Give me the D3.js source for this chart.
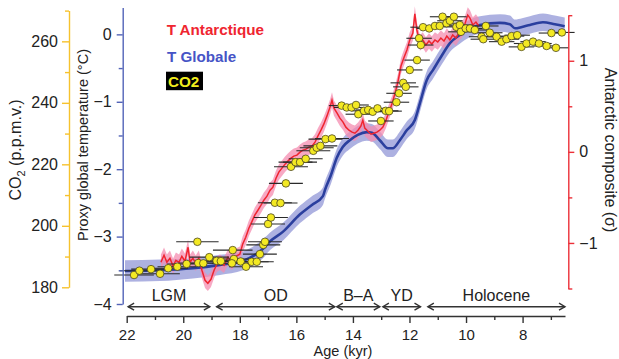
<!DOCTYPE html>
<html><head><meta charset="utf-8">
<script src="https://cdn.jsdelivr.net/npm/d3@7"></script>
<style>
body{margin:0;background:#fff;}
svg{display:block;}
text{font-family:"Liberation Sans",Arial,Helvetica,sans-serif;}
</style></head><body>
<svg id="c" width="619" height="359"></svg>
<script>
// ---------------- data ----------------
const globalAge  = [22.06,20.82,19.66,18.70,17.89,17.46,17.18,16.93,16.48,15.87,15.45,15.06,14.99,14.78,14.57,14.36,14.11,13.83,13.51,13.33,13.05,12.76,12.59,12.34,12.09,11.81,11.63,11.39,11.17,10.85,10.57,10.22,9.86,9.51,8.80,8.45,8.27,8.02,7.74,7.28,6.86,6.51];
const globalTemp = [-3.51,-3.50,-3.47,-3.42,-3.36,-3.27,-3.18,-3.07,-2.93,-2.67,-2.53,-2.40,-2.31,-2.09,-1.83,-1.67,-1.57,-1.49,-1.45,-1.46,-1.57,-1.69,-1.69,-1.57,-1.42,-1.27,-1.02,-0.68,-0.53,-0.31,-0.13,-0.01,0.09,0.14,0.17,0.15,0.09,0.11,0.14,0.18,0.15,0.12];
const globalErr  = [0.16,0.16,0.15,0.15,0.14,0.14,0.14,0.13,0.13,0.13,0.13,0.13,0.13,0.13,0.13,0.13,0.13,0.13,0.13,0.13,0.13,0.13,0.13,0.13,0.13,0.13,0.13,0.13,0.13,0.13,0.13,0.13,0.13,0.13,0.13,0.13,0.13,0.13,0.13,0.13,0.13,0.13];

const antAge   = [20.79,20.68,20.58,20.47,20.36,20.26,20.15,20.05,19.94,19.83,19.76,19.66,19.56,19.45,19.34,19.23,19.13,19.02,18.91,18.81,18.70,18.56,18.42,18.28,18.14,18.00,17.90,17.79,17.68,17.58,17.47,17.36,17.25,17.15,17.04,16.93,16.83,16.72,16.62,16.51,16.40,16.30,16.19,16.09,15.98,15.87,15.77,15.66,15.56,15.45,15.34,15.24,15.13,15.03,14.92,14.81,14.74,14.67,14.56,14.46,14.35,14.25,14.14,14.03,13.93,13.82,13.72,13.65,13.58,13.47,13.36,13.26,13.15,13.05,12.94,12.83,12.73,12.62,12.51,12.41,12.30,12.20,12.09,11.99,11.88,11.81,11.74,11.63,11.53,11.42,11.31,11.21,11.10,11.00,10.89,10.78,10.68,10.57,10.47,10.36,10.25,10.15,10.04,9.94,9.86,9.76,9.65,9.55];
const antSigma = [-1.212,-1.135,-1.212,-1.168,-1.256,-1.190,-1.212,-1.146,-1.201,-1.047,-1.212,-1.168,-1.223,-1.168,-1.300,-1.410,-1.443,-1.399,-1.300,-1.234,-1.212,-1.245,-1.157,-1.212,-1.146,-1.124,-1.014,-0.937,-0.838,-0.772,-0.695,-0.641,-0.586,-0.531,-0.487,-0.421,-0.388,-0.289,-0.223,-0.179,-0.135,-0.102,-0.069,-0.047,-0.036,-0.003,0.019,0.030,0.052,0.063,0.107,0.173,0.238,0.304,0.392,0.491,0.568,0.480,0.425,0.370,0.326,0.271,0.238,0.216,0.205,0.238,0.282,0.348,0.260,0.227,0.194,0.205,0.216,0.238,0.271,0.348,0.436,0.524,0.645,0.766,0.942,1.030,1.118,1.228,1.305,1.514,1.338,1.195,1.228,1.173,1.217,1.184,1.228,1.206,1.249,1.216,1.271,1.228,1.282,1.249,1.304,1.337,1.403,1.502,1.469,1.392,1.425,1.381];
const antErr = 0.085;

const co2Age = [21.74,21.55,21.14,20.82,20.53,20.21,19.88,19.50,19.47,19.29,19.08,18.82,18.67,18.25,18.21,18.28,17.97,17.78,17.58,17.40,17.29,17.17,17.11,17.00,16.90,16.76,16.56,16.37,16.19,16.03,15.87,15.67,15.40,15.28,15.15,14.97,14.74,14.40,14.22,14.05,13.89,13.81,13.61,13.46,13.30,13.13,13.01,12.84,12.72,12.46,12.37,12.22,12.13,11.99,11.73,11.66,11.60,11.52,11.30,11.10,10.93,10.83,10.69,10.57,10.43,10.34,10.22,10.18,10.01,9.86,9.69,9.45,9.30,9.16,9.39,8.92,8.74,8.57,8.39,8.19,8.04,7.86,7.63,7.42,7.15,6.98,6.82,6.61];
const co2Val = [184.0,185.4,185.9,184.4,186.2,186.7,187.6,194.8,187.9,187.8,189.8,188.6,188.5,192.1,189.2,187.8,188.4,186.7,188.3,188.3,190.8,193.8,194.8,200.6,202.7,207.5,207.4,213.8,219.2,220.7,220.7,221.8,224.4,225.4,226.0,228.2,228.4,239.1,238.5,238.5,239.3,236.3,237.4,237.7,237.1,238.2,234.1,237.4,237.3,240.2,243.1,246.5,245.2,250.7,253.9,261.0,258.8,264.6,264.2,265.0,265.0,268.0,265.9,266.7,268.0,264.7,265.3,263.1,264.2,264.2,263.7,261.5,265.0,262.8,260.7,261.5,259.9,260.7,261.7,262.0,258.2,259.3,259.9,259.3,258.5,262.7,257.9,262.9];
const co2AgeErr = [0.7,0.7,0.7,0.7,0.7,0.7,0.7,0.75,0.7,0.7,0.7,0.7,0.7,0.7,0.7,0.7,0.7,0.6,0.6,0.6,0.6,0.6,0.6,0.6,0.6,0.6,0.6,0.6,0.6,0.6,0.6,0.6,0.6,0.6,0.6,0.6,0.6,0.45,0.45,0.45,0.45,0.45,0.45,0.45,0.45,0.45,0.45,0.45,0.45,0.45,0.45,0.45,0.45,0.45,0.45,0.45,0.45,0.45,0.45,0.45,0.45,0.45,0.45,0.45,0.45,0.45,0.45,0.45,0.45,0.45,0.45,0.45,0.45,0.45,0.45,0.45,0.45,0.45,0.45,0.45,0.45,0.45,0.45,0.45,0.45,0.45,0.45,0.45];

const ageTicks = [22,20,18,16,14,12,10,8];
const ageMinor = [21,19,17,15,13,11,9,7];
const tempTicks = [0,-1,-2,-3,-4];
const tempMinor = [-0.5,-1.5,-2.5,-3.5];
const sigmaTicks = [1,0,-1];
const sigmaMinor = [1.5,0.5,-0.5,-1.5];
const co2Ticks = [180,200,220,240,260];
const co2Minor = [190,210,230,250,270];

const periodLabels = ["LGM","OD","B\u2013A","YD","Holocene"];
const periodStart  = [21.95,18.82,14.57,12.94,11.35];
const periodEnd    = [19.06,14.64,13.05,11.61,6.50];

const legendLabels = ["T Antarctique","T Globale","CO2"];

// ---------------- drawing ----------------
const svg = d3.select("#c");
const x  = d3.scaleLinear().domain([22, 6.5]).range([126.7, 565]);
const yT = d3.scaleLinear().domain([-4, 0.4]).range([304, 7.4]);
const yA = d3.scaleLinear().domain([-1.5, 1.5]).range([288.5, 15.2]);
const yC = d3.scaleLinear().domain([180, 270]).range([287.3, 10.6]);

const FONT = 16;
const minus = d => d < 0 ? "\u2212" + Math.abs(d) : String(d);

// global temperature band + line
const gData = globalAge.map((a,i)=>({a, t:globalTemp[i], e:globalErr[i]}));
svg.append("path").datum(gData)
  .attr("d", d3.area().x(d=>x(d.a)).y0(d=>yT(d.t-d.e)).y1(d=>yT(d.t+d.e)).curve(d3.curveMonotoneX))
  .attr("fill","#9fa3dc").attr("opacity",0.85);

// antarctic band
const aData = antAge.map((a,i)=>({a, s:antSigma[i]}));
svg.append("path").datum(aData)
  .attr("d", d3.area().x(d=>x(d.a)).y0(d=>yA(d.s-antErr)).y1(d=>yA(d.s+antErr)).curve(d3.curveLinear))
  .attr("fill","#f48cb0").attr("opacity",0.75);

svg.append("path").datum(gData)
  .attr("d", d3.line().x(d=>x(d.a)).y(d=>yT(d.t)).curve(d3.curveMonotoneX))
  .attr("fill","none").attr("stroke","#2b3f9e").attr("stroke-width",2.6);

svg.append("path").datum(aData)
  .attr("d", d3.line().x(d=>x(d.a)).y(d=>yA(d.s)))
  .attr("fill","none").attr("stroke","#ef2530").attr("stroke-width",1.5);

// CO2 error bars + dots
const cData = co2Age.map((a,i)=>({a, c:co2Val[i], e:co2AgeErr[i]}));
svg.append("g").selectAll("line").data(cData).join("line")
  .attr("x1", d=>x(d.a+d.e)).attr("x2", d=>x(d.a-d.e))
  .attr("y1", d=>yC(d.c)).attr("y2", d=>yC(d.c))
  .attr("stroke","#2a2a2a").attr("stroke-width",1.1);
svg.append("g").selectAll("circle").data(cData).join("circle")
  .attr("cx", d=>x(d.a)).attr("cy", d=>yC(d.c)).attr("r",3.8)
  .attr("fill","#f3e923").attr("stroke","#4b4620").attr("stroke-width",0.8);

// axes helper
function style(g, color, textColor, fs){
  g.selectAll("path.domain").attr("stroke",color).attr("stroke-width",1.4);
  g.selectAll(".tick line").attr("stroke",color).attr("stroke-width",1.4);
  g.selectAll("text").attr("font-size",fs||FONT).attr("fill",textColor)
    .attr("font-family",'"Liberation Sans",Arial,sans-serif');
}

// bottom axis
const gx = svg.append("g").attr("transform","translate(0,316)")
  .call(d3.axisBottom(x).tickValues(ageTicks).tickSize(7).tickPadding(6).tickSizeOuter(0).tickFormat(d3.format("d")));
style(gx,"#333","#222",15);
const gxm = svg.append("g").attr("transform","translate(0,316)")
  .call(d3.axisBottom(x).tickValues(ageMinor).tickSize(4).tickFormat(""));
gxm.select("path.domain").remove();
style(gxm,"#333","#222");
svg.append("text").attr("x",343).attr("y",356).attr("text-anchor","middle")
  .attr("font-size",14.5).attr("fill","#222").text("Age (kyr)");

// temperature axis
const gt = svg.append("g").attr("transform","translate(122.7,0)")
  .call(d3.axisLeft(yT).tickValues(tempTicks).tickSize(6).tickPadding(5).tickSizeOuter(0).tickFormat(minus));
style(gt,"#5364b8","#222");
const gtm = svg.append("g").attr("transform","translate(122.7,0)")
  .call(d3.axisLeft(yT).tickValues(tempMinor).tickSize(4).tickFormat(""));
gtm.select("path.domain").remove();
style(gtm,"#5364b8","#222");
svg.append("text").attr("transform","translate(87.5,145) rotate(-90)")
  .attr("text-anchor","middle").attr("font-size",14.5).attr("fill","#222")
  .text("Proxy global temperature (\u00B0C)");

// antarctic axis
const ga = svg.append("g").attr("transform","translate(568.3,0)")
  .call(d3.axisRight(yA).tickValues(sigmaTicks).tickSize(6).tickPadding(5).tickSizeOuter(0).tickFormat(minus));
style(ga,"#ec2f38","#222");
const gam = svg.append("g").attr("transform","translate(568.3,0)")
  .call(d3.axisRight(yA).tickValues(sigmaMinor).tickSize(4).tickFormat(""));
gam.select("path.domain").remove();
style(gam,"#ec2f38","#222");
svg.append("text").attr("transform","translate(605,150) rotate(90)")
  .attr("text-anchor","middle").attr("font-size",FONT).attr("fill","#222")
  .text("Antarctic composite (\u03C3)");

// CO2 axis
const gc = svg.append("g").attr("transform","translate(69,0)")
  .call(d3.axisLeft(yC).tickValues(co2Ticks).tickSize(7).tickPadding(4).tickSizeOuter(0));
style(gc,"#f6c22e","#222");
const gcm = svg.append("g").attr("transform","translate(69,0)")
  .call(d3.axisLeft(yC).tickValues(co2Minor).tickSize(4).tickFormat(""));
gcm.select("path.domain").remove();
style(gcm,"#f6c22e","#222");
const co2t = svg.append("text").attr("transform","translate(20.5,150) rotate(-90)")
  .attr("text-anchor","middle").attr("font-size",FONT).attr("fill","#222");
co2t.append("tspan").text("CO");
co2t.append("tspan").attr("font-size",11).attr("dy",4).text("2");
co2t.append("tspan").attr("dy",-4).text(" (p.p.m.v.)");

// periods
const py = 306.7;
periodLabels.forEach((lab,i)=>{
  const x0 = x(periodStart[i]), x1 = x(periodEnd[i]);
  const g = svg.append("g").attr("stroke","#333").attr("stroke-width",1.4).attr("fill","none");
  g.append("line").attr("x1",x0).attr("x2",x1).attr("y1",py).attr("y2",py);
  g.append("path").attr("d",`M${x0+6},${py-3.5}L${x0},${py}L${x0+6},${py+3.5}`);
  g.append("path").attr("d",`M${x1-6},${py-3.5}L${x1},${py}L${x1-6},${py+3.5}`);
  svg.append("text").attr("x",(x0+x1)/2).attr("y",300.7).attr("text-anchor","middle")
    .attr("font-size",FONT).attr("fill","#222").text(lab);
});

// legend
svg.append("text").attr("x",166.7).attr("y",35).attr("font-size",15.2).attr("font-weight","bold")
  .attr("fill","#ef2530").text(legendLabels[0]);
svg.append("text").attr("x",167).attr("y",61.5).attr("font-size",15.2).attr("font-weight","bold")
  .attr("fill","#4654c6").text(legendLabels[1]);
svg.append("rect").attr("x",166).attr("y",71.7).attr("width",37).attr("height",18.5).attr("fill","#000");
svg.append("text").attr("x",168).attr("y",87.3).attr("font-size",15.2).attr("font-weight","bold")
  .attr("fill","#f3ee1e").text(legendLabels[2]);
</script>
</body></html>
